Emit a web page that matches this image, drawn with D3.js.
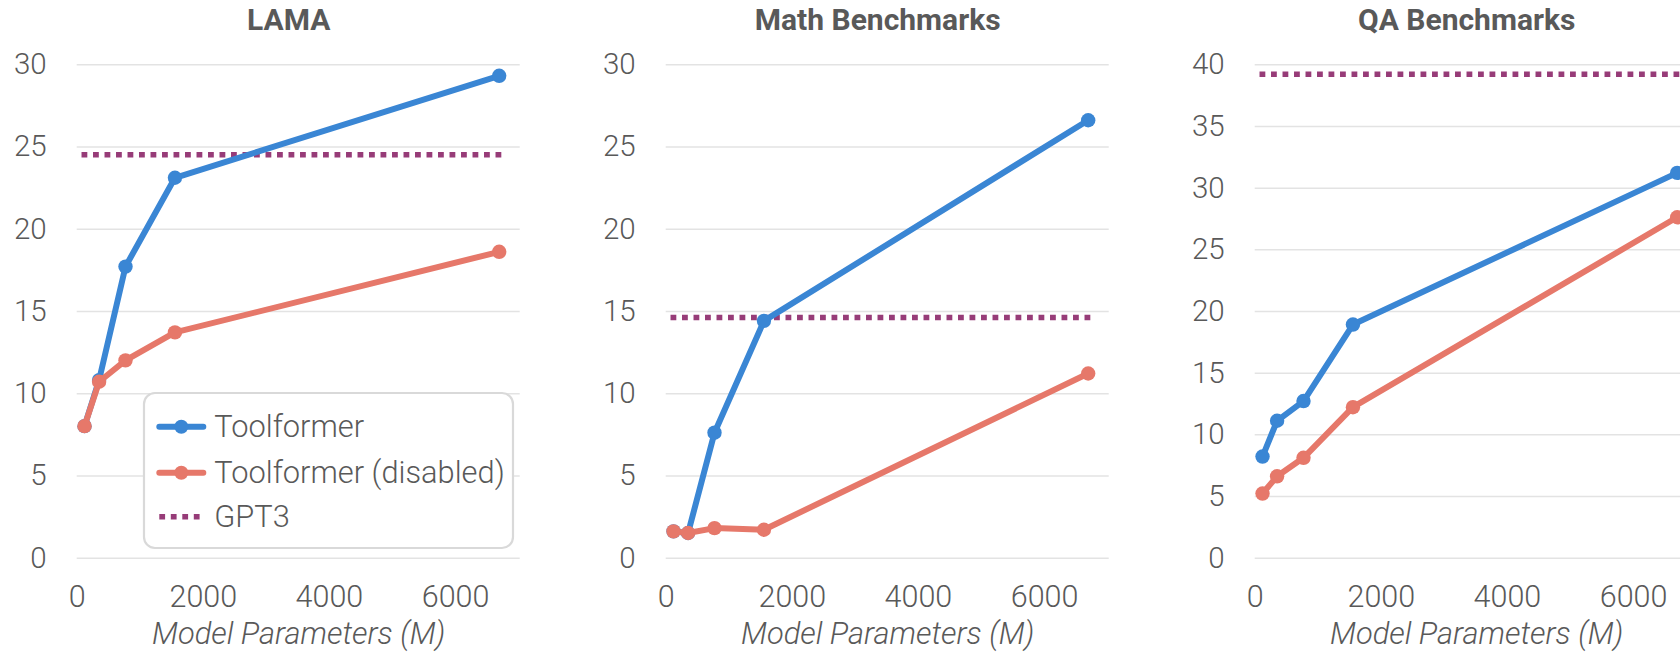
<!DOCTYPE html>
<html>
<head>
<meta charset="utf-8">
<script src="https://cdn.jsdelivr.net/npm/d3@7"></script>
<style>
  body { margin: 0; background: #fff; overflow: hidden; }
  text { font-family: Roboto, "Noto Sans", sans-serif; fill: #595959; }
</style>
</head>
<body>
<script>
// 数据
const params = [124, 355, 774, 1558, 6700];

const titles = ['LAMA', 'Math Benchmarks', 'QA Benchmarks'];
const yMaxes = [30, 30, 40];

const lamaTool = [8.0, 10.8, 17.7, 23.1, 29.3];
const lamaDisabled = [8.0, 10.7, 12.0, 13.7, 18.6];
const lamaGpt3 = 24.5;

const mathTool = [1.6, 1.5, 7.6, 14.4, 26.6];
const mathDisabled = [1.6, 1.5, 1.8, 1.7, 11.2];
const mathGpt3 = 14.6;

const qaTool = [8.2, 11.1, 12.7, 18.9, 31.2];
const qaDisabled = [5.2, 6.6, 8.1, 12.2, 27.6];
const qaGpt3 = 39.2;

const xTicks = [0, 2000, 4000, 6000];
const seriesNames = ['Toolformer', 'Toolformer (disabled)', 'GPT3'];

// 基本设置
const width = 1680;
const height = 657;
const plotTop = 64.3;
const plotBottom = 557.7;
const plotWidth = 443;
const panelStep = 589;
const firstLeft = 76.7;

const BLUE = '#3a86d4';
const ORANGE = '#e6786a';
const PURPLE = '#973c78';

const panels = [
  { tool: lamaTool, disabled: lamaDisabled, gpt3: lamaGpt3 },
  { tool: mathTool, disabled: mathDisabled, gpt3: mathGpt3 },
  { tool: qaTool, disabled: qaDisabled, gpt3: qaGpt3 },
];

const svg = d3.select('body')
  .append('svg')
  .attr('width', width)
  .attr('height', height);

panels.forEach((p, i) => {
  const x0 = firstLeft + i * panelStep;
  const g = svg.append('g').attr('transform', `translate(${x0},0)`);

  const x = d3.scaleLinear().domain([0, 7000]).range([0, 441.4]);
  const y = d3.scaleLinear().domain([0, yMaxes[i]]).range([plotBottom, plotTop]);
  const yTicks = d3.range(0, yMaxes[i] + 1, 5);

  // gridlines
  g.append('g')
    .call(d3.axisLeft(y).tickValues(yTicks).tickSize(-plotWidth).tickFormat(''))
    .call(s => s.select('.domain').remove())
    .call(s => s.selectAll('line').attr('stroke', '#e3e3e3').attr('stroke-width', 1.5));

  // y labels
  g.append('g')
    .call(d3.axisLeft(y).tickValues(yTicks).tickSize(0).tickPadding(30))
    .call(s => s.select('.domain').remove())
    .call(s => s.selectAll('text')
      .style('font-size', '29.5px').style('font-weight', 300)
      .attr('fill', '#595959').attr('font-family', null));

  // x labels
  g.append('g')
    .attr('transform', `translate(0,${plotBottom})`)
    .call(d3.axisBottom(x).tickValues(xTicks).tickSize(0).tickFormat(d3.format('d')))
    .call(s => s.select('.domain').remove())
    .call(s => s.selectAll('text')
      .attr('y', 49).attr('dy', null)
      .style('font-size', '30.5px').style('font-weight', 300)
      .attr('fill', '#595959').attr('font-family', null));

  // title
  g.append('text')
    .attr('x', 212)
    .attr('y', 30)
    .attr('text-anchor', 'middle')
    .style('font-size', '30px')
    .style('font-weight', 'bold')
    .text(titles[i]);

  // axis title
  g.append('text')
    .attr('x', 222)
    .attr('y', 643.5)
    .attr('text-anchor', 'middle')
    .style('font-size', '30.8px')
    .style('font-weight', 300)
    .style('font-style', 'italic')
    .text('Model Parameters (M)');

  // GPT3 line
  g.append('line')
    .attr('x1', x(params[0]) - 3)
    .attr('x2', x(params[params.length - 1]) + 3)
    .attr('y1', y(p.gpt3))
    .attr('y2', y(p.gpt3))
    .attr('stroke', PURPLE)
    .attr('stroke-width', 5.5)
    .attr('stroke-dasharray', '5.8 5.7');

  const line = d3.line()
    .x((d, k) => x(params[k]))
    .y(d => y(d));

  [[p.tool, BLUE], [p.disabled, ORANGE]].forEach(([vals, color]) => {
    g.append('path')
      .datum(vals)
      .attr('d', line)
      .attr('fill', 'none')
      .attr('stroke', color)
      .attr('stroke-width', 6)
      .attr('stroke-linejoin', 'round');

    g.selectAll(null)
      .data(vals)
      .enter()
      .append('circle')
      .attr('cx', (d, k) => x(params[k]))
      .attr('cy', d => y(d))
      .attr('r', 7.2)
      .attr('fill', color);
  });

  // legend only in first panel
  if (i === 0) {
    const lg = svg.append('g').attr('transform', 'translate(144,393)');
    lg.append('rect')
      .attr('width', 369)
      .attr('height', 155)
      .attr('rx', 11)
      .attr('fill', '#fff')
      .attr('stroke', '#d9d9d9')
      .attr('stroke-width', 2.2);

    const rowsY = [33.7, 79.7, 123.7];
    const rowColors = [BLUE, ORANGE, PURPLE];
    seriesNames.forEach((name, k) => {
      const row = lg.append('g').attr('transform', `translate(0,${rowsY[k]})`);
      const ln = row.append('line')
        .attr('x1', 15.3).attr('x2', 59.3)
        .attr('stroke', rowColors[k])
        .attr('stroke-width', k === 2 ? 5.5 : 6);
      if (k === 2) {
        ln.attr('stroke-dasharray', '5.8 5.7');
      } else {
        ln.attr('stroke-linecap', 'round');
        row.append('circle').attr('cx', 37.3).attr('r', 7).attr('fill', rowColors[k]);
      }
      row.append('text')
        .attr('x', 70.3)
        .attr('dy', '0.35em')
        .style('font-size', '30.8px')
        .style('font-weight', 300)
        .text(name);
    });
  }
});
</script>
</body>
</html>
